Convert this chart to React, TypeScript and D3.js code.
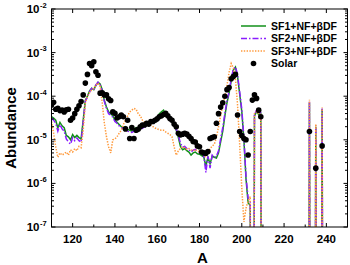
import * as d3 from 'd3';

// mass numbers of the main region, one model value per A
const massMain = d3.range(110, 211);

// log10(abundance); null = zero (drops off the plot)
const sf1Main = [
  -4.47, -4.5, -4.55, -4.73, -4.6, -4.68, -4.72, -4.9, -4.93, -5.0,
  -4.88, -4.95, -4.9, -4.95, -4.98, -4.55, -4.1, -4.0, -3.88, -3.82,
  -3.85, -3.75, -3.68, -3.72, -3.85, -4.1, -4.25, -4.36, -4.4, -4.45,
  -4.55, -4.6, -4.65, -4.7, -4.72, -4.7, -4.76, -4.78, -4.8, -4.76,
  -4.72, -4.74, -4.7, -4.72, -4.68, -4.67, -4.62, -4.6, -4.58, -4.52,
  -4.48, -4.4, -4.36, -4.32, -4.42, -4.48, -4.52, -4.6, -4.65, -4.78,
  -4.95, -5.15, -5.23, -5.2, -5.25, -5.28, -5.35, -5.3, -5.28, -5.32,
  -5.33, -5.36, -5.39, -5.6, -5.4, -5.55, -5.38, -5.4, -5.42, -5.3,
  -5.05, -4.8, -4.45, -4.15, -3.93, -3.65, -3.4, -3.33, -3.55, -3.95,
  -4.35, -5.0, -5.9, -6.45, -6.5, null, -4.45, -4.35, -4.42, -4.4,
  null,
];

const sf2Main = [
  -4.5, -4.55, -4.62, -4.8, -4.65, -4.75, -4.8, -4.98, -5.05, -5.1,
  -4.95, -5.02, -4.96, -5.02, -5.05, -4.6, -4.12, -4.02, -3.9, -3.82,
  -3.86, -3.74, -3.68, -3.74, -3.88, -4.12, -4.28, -4.4, -4.43, -4.48,
  -4.58, -4.62, -4.68, -4.72, -4.75, -4.74, -4.8, -4.82, -4.83, -4.8,
  -4.76, -4.77, -4.73, -4.74, -4.7, -4.7, -4.65, -4.62, -4.6, -4.56,
  -4.52, -4.45, -4.42, -4.38, -4.45, -4.5, -4.55, -4.62, -4.66, -4.76,
  -4.9, -5.08, -5.17, -5.15, -5.2, -5.22, -5.28, -5.24, -5.22, -5.26,
  -5.28, -5.32, -5.35, -5.75, -5.38, -5.65, -5.35, -5.4, -5.38, -5.25,
  -4.98, -4.72, -4.4, -4.1, -3.9, -3.6, -3.38, -3.33, -3.5, -3.9,
  -4.3, -4.95, -5.85, -6.35, -6.4, null, -4.42, -4.32, -4.4, -4.38,
  null,
];

const sf3Main = [
  -4.58, -4.85, -5.16, -5.4, -5.3, -5.35, -5.32, -5.28, -5.35, -5.23,
  -5.28, -5.2, -5.25, -5.15, -5.18, -4.78, -4.16, -4.0, -3.92, -3.85,
  -3.82, -3.75, -3.7, -3.78, -4.15, -4.62, -4.93, -5.16, -5.3, -5.0,
  -4.98, -4.93, -4.85, -4.78, -4.65, -4.55, -4.45, -4.36, -4.32, -4.28,
  -4.3, -4.4, -4.45, -4.55, -4.6, -4.62, -4.6, -4.66, -4.7, -4.73,
  -4.75, -4.77, -4.78, -4.78, -4.82, -4.85, -4.88, -4.93, -5.16, -5.35,
  -5.25, -5.2, -5.16, -5.18, -5.22, -5.2, -5.23, -5.25, -5.22, -5.26,
  -5.27, -5.3, -5.32, -5.38, -5.3, -5.2, -5.15, -5.1, -4.95, -4.7,
  -4.45, -4.2, -4.0, -3.75, -3.45, -3.25, -3.35, -3.6, -4.2, -5.1,
  -6.1, -6.88, -6.57, -6.4, -6.3, null, -4.4, -4.35, -4.4, -4.42,
  null,
];

// actinide spikes
const spikeMass = [232, 235, 238];
const sf1Spikes = [-4.15, -4.7, -4.3];
const sf2Spikes = [-4.12, -4.66, -4.28];
const sf3Spikes = [-4.08, -4.64, -4.26];

// solar r-process abundances
const solarMass = [
  ...d3.range(110, 210),
  232, 235, 238,
];
const solarLog = [
  -4.2, -4.14, -4.3, -4.28, -4.33, -4.32, -4.36, -4.31, -4.3, -4.55,
  -4.5, -4.4, -4.3, -4.22, -4.12, -3.97, -3.7, -3.5, -3.25, -3.3,
  -3.21, -3.44, -3.52, -3.93, -3.92, -3.97, -3.97, -4.06, -4.1, -4.36,
  -4.39, -4.5, -4.47, -4.43, -4.47, -4.75, -4.55, -4.97, -4.72, -4.97,
  -4.78, -4.76, -4.7, -4.66, -4.66, -4.62, -4.64, -4.58, -4.58, -4.55,
  -4.52, -4.47, -4.45, -4.42, -4.39, -4.45, -4.51, -4.55, -4.64, -4.7,
  -4.85, -4.89, -4.87, -4.85, -4.87, -4.92, -4.97, -5.04, -5.05, -5.14,
  -5.16, -5.28, -5.3, -5.31, -5.27, -4.97, -4.95, -4.93, -4.62, -4.4,
  -4.25, -4.15, -4.0, -3.85, -3.8, -3.6, -3.55, -3.5, -4.43, -4.81,
  -4.9, -4.97, -5.0, -5.35, -4.81, -4.09, -3.97, -4.05, -4.32, -4.47,
  -4.81, -5.65, -5.14,
];

const xTicks = [120, 140, 160, 180, 200, 220, 240];
const yExponents = [-2, -3, -4, -5, -6, -7];

const series = [
  { label: 'SF1+NF+\u03b2DF', main: sf1Main, spikes: sf1Spikes, color: '#12901a', dash: null },
  { label: 'SF2+NF+\u03b2DF', main: sf2Main, spikes: sf2Spikes, color: '#8a1cff', dash: '6,2,1.5,2' },
  { label: 'SF3+NF+\u03b2DF', main: sf3Main, spikes: sf3Spikes, color: '#ff9a3c', dash: '1.4,1.4' },
];

const W = 350;
const H = 265;
const left = 51.5;
const right = 347.5;
const top = 9;
const bottom = 227;
const font = 'Arial, "Liberation Sans", sans-serif';

export default function App() {
  const x = d3.scaleLinear().domain([110, 250]).range([left, right]);
  const y = d3.scaleLog().domain([1e-7, 1e-2]).range([bottom, top]);

  const toPoints = (main: (number | null)[], spikes: number[]) => {
    const pts: [number, number | null][] = massMain.map((a, i) => [a, main[i]]);
    spikeMass.forEach((a, i) => {
      pts.push([a - 1, null], [a, spikes[i]], [a + 1, null]);
    });
    return pts;
  };

  const line = d3
    .line<[number, number | null]>()
    .x((d) => x(d[0]))
    .y((d) => (d[1] === null ? bottom + 800 : y(10 ** d[1])));

  const minorY: number[] = [];
  for (let e = -7; e < -2; e++) {
    for (let m = 2; m <= 9; m++) minorY.push(m * 10 ** e);
  }
  const minorX = d3.range(110, 251, 10).filter((v) => !xTicks.includes(v));

  return (
    <svg
      width={W}
      height={H}
      style={{ position: 'absolute', left: 0, top: 0, background: '#fff' }}
      fontFamily={font}
    >
      <defs>
        <clipPath id="plot">
          <rect x={left} y={top} width={right - left} height={bottom - top} />
        </clipPath>
      </defs>

      <g clipPath="url(#plot)">
        {series.map((s) => (
          <path
            key={s.label}
            d={line(toPoints(s.main, s.spikes)) || ''}
            fill="none"
            stroke={s.color}
            strokeWidth={1.5}
            strokeDasharray={s.dash || undefined}
          />
        ))}
        {solarMass.map((a, i) => (
          <circle key={a} cx={x(a)} cy={y(10 ** solarLog[i])} r={2.8} fill="#000" />
        ))}
      </g>

      {/* frame */}
      <rect x={left} y={top} width={right - left} height={bottom - top} fill="none" stroke="#000" strokeWidth={1} />

      {/* x ticks, bottom and top, inward */}
      {xTicks.map((t) => (
        <g key={'xt' + t}>
          <line x1={x(t)} x2={x(t)} y1={bottom} y2={bottom - 4} stroke="#000" />
          <line x1={x(t)} x2={x(t)} y1={top} y2={top + 4} stroke="#000" />
          <text x={x(t)} y={bottom + 16} textAnchor="middle" fontSize={11.5} fontWeight="bold">
            {t}
          </text>
        </g>
      ))}
      {minorX.map((t) => (
        <g key={'xm' + t}>
          <line x1={x(t)} x2={x(t)} y1={bottom} y2={bottom - 2.5} stroke="#000" />
          <line x1={x(t)} x2={x(t)} y1={top} y2={top + 2.5} stroke="#000" />
        </g>
      ))}

      {/* y ticks, left and right, inward */}
      {yExponents.map((e) => (
        <g key={'yt' + e}>
          <line x1={left} x2={left + 4} y1={y(10 ** e)} y2={y(10 ** e)} stroke="#000" />
          <line x1={right} x2={right - 4} y1={y(10 ** e)} y2={y(10 ** e)} stroke="#000" />
          <text x={39.5} y={y(10 ** e) + 4} textAnchor="end" fontSize={11.5} fontWeight="bold">
            10
          </text>
          <text x={40} y={y(10 ** e) - 1.5} fontSize={7.5} fontWeight="bold">
            {'-' + -e}
          </text>
        </g>
      ))}
      {minorY.map((v) => (
        <g key={'ym' + v}>
          <line x1={left} x2={left + 2.5} y1={y(v)} y2={y(v)} stroke="#000" />
          <line x1={right} x2={right - 2.5} y1={y(v)} y2={y(v)} stroke="#000" />
        </g>
      ))}

      {/* axis titles */}
      <text x={(left + right) / 2 + 3} y={263} textAnchor="middle" fontSize={15} fontWeight="bold">
        A
      </text>
      <text
        transform={`translate(16,${(top + bottom) / 2 + 10}) rotate(-90)`}
        textAnchor="middle"
        fontSize={15}
        fontWeight="bold"
      >
        Abundance
      </text>

      {/* legend */}
      {series.map((s, i) => (
        <g key={'lg' + s.label} transform={`translate(0,${26 + i * 12.5})`}>
          <line x1={241} x2={266} y1={0} y2={0} stroke={s.color} strokeWidth={1.5} strokeDasharray={s.dash || undefined} />
          <text x={271} y={3.8} fontSize={10.5} fontWeight="bold">
            {s.label}
          </text>
        </g>
      ))}
      <g transform={`translate(0,${26 + 3 * 12.5})`}>
        <circle cx={253.5} cy={0} r={2.8} fill="#000" />
        <text x={271} y={3.8} fontSize={10.5} fontWeight="bold">
          Solar
        </text>
      </g>
    </svg>
  );
}
